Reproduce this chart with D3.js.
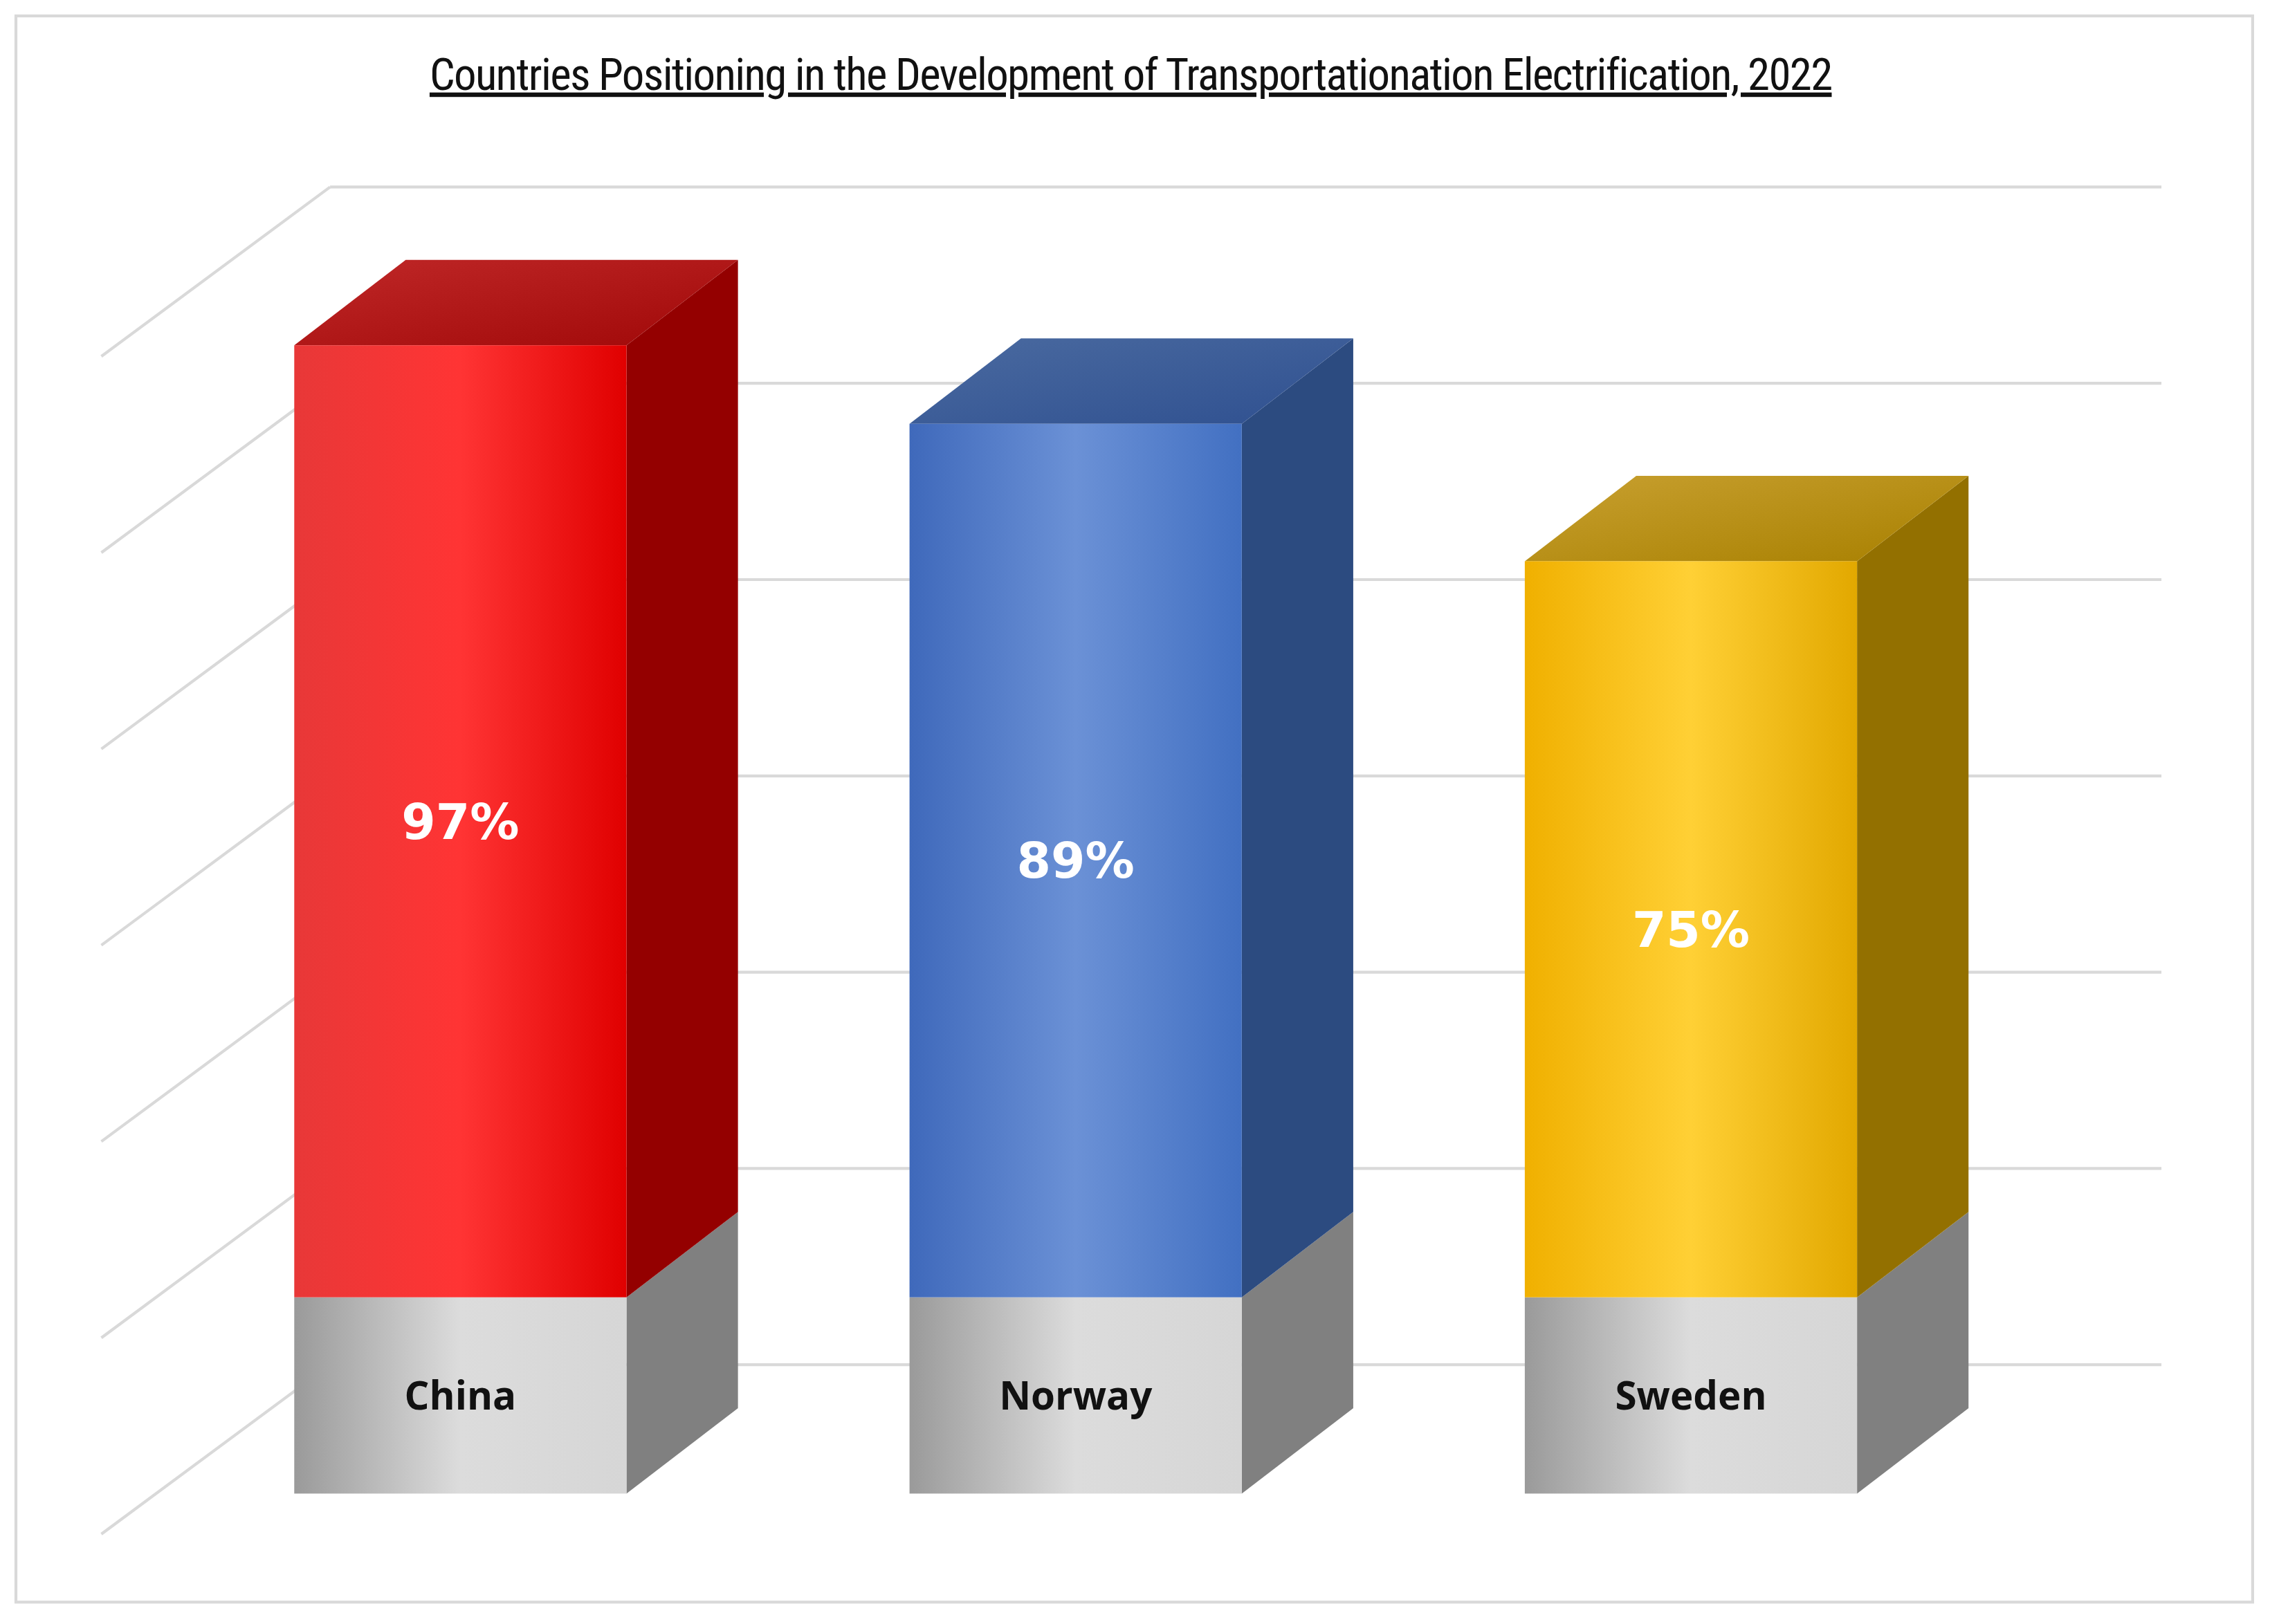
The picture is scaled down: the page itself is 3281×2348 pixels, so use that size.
<!DOCTYPE html>
<html><head><meta charset="utf-8">
<script src="https://cdn.jsdelivr.net/npm/d3@7"></script>
<style>body{margin:0;background:#fff}svg{display:block}</style>
</head><body><svg width="3281" height="2348"></svg>
<script>
const countries = ["China", "Norway", "Sweden"];
const values = [97, 89, 75];
const baseValue = 20; // grey label segment under each bar
const gridValues = [0, 20, 40, 60, 80, 100, 120];
const title = "Countries Positioning in the Development of Transportationation Electrification,  2022";

const k = 3281 / 1568;
const svg = d3.select("svg");
const g = svg.append("g").attr("transform", `scale(${k})`);

const palette = {
  China: { f: ["#e83838", "#ff3434", "#e00000"], side: "#940000", top: ["#c02828", "#a00808"] },
  Norway: { f: ["#3f69bb", "#6b91d6", "#4270c2"], side: "#2c4b80", top: ["#4a6aa0", "#2f5090"] },
  Sweden: { f: ["#f0b000", "#ffd035", "#e2a800"], side: "#937000", top: ["#c8a030", "#a88000"] },
  base: { f: ["#9a9a9a", "#dcdcdc", "#d6d6d6"], side: "#808080" }
};

const y = d3.scaleLinear().domain([0, 140]).range([1032, 82.6]);
const x = d3.scaleBand().domain(countries).range([165, 1321]).paddingInner(0.46).paddingOuter(0.09);
const dx = 77, dy = -59;

// frame
g.append("rect").attr("x", 11).attr("y", 11).attr("width", 1545).attr("height", 1096)
  .attr("fill", "#fff").attr("stroke", "#d9d9d9").attr("stroke-width", 2);

// back wall grid and left wall diagonals
const grid = g.append("g").attr("stroke", "#d9d9d9").attr("stroke-width", 2).attr("fill", "none");
gridValues.forEach(v => {
  const yb = y(v) - 89;
  grid.append("line").attr("x1", 228).attr("x2", 1493).attr("y1", yb).attr("y2", yb);
  grid.append("line").attr("x1", 228).attr("x2", 70).attr("y1", yb).attr("y2", yb + 117);
});

const defs = g.append("defs");
function grad(id, stops, horizontal = true) {
  const lg = defs.append("linearGradient").attr("id", id)
    .attr("x1", 0).attr("y1", 0).attr("x2", horizontal ? 1 : 1).attr("y2", horizontal ? 0 : 1);
  stops.forEach((c, i) => lg.append("stop").attr("offset", i / (stops.length - 1)).attr("stop-color", c));
}
grad("g-base", palette.base.f);
countries.forEach(c => {
  grad("f-" + c, palette[c].f);
  grad("t-" + c, palette[c].top, false);
});

function box(x0, w, yTop, yBot, front, side, top) {
  const grp = g.append("g");
  grp.append("path").attr("fill", side)
    .attr("d", `M${x0 + w},${yTop}L${x0 + w + dx},${yTop + dy}L${x0 + w + dx},${yBot + dy}L${x0 + w},${yBot}Z`);
  if (top) grp.append("path").attr("fill", top)
    .attr("d", `M${x0},${yTop}L${x0 + dx},${yTop + dy}L${x0 + w + dx},${yTop + dy}L${x0 + w},${yTop}Z`);
  grp.append("rect").attr("x", x0).attr("y", yTop).attr("width", w).attr("height", yBot - yTop).attr("fill", front);
}

countries.forEach((c, i) => {
  const x0 = x(c), w = x.bandwidth();
  box(x0, w, y(baseValue), y(0), "url(#g-base)", palette.base.side, null);
  box(x0, w, y(baseValue + values[i]), y(baseValue), `url(#f-${c})`, palette[c].side, `url(#t-${c})`);
  g.append("text").attr("x", x0 + w / 2).attr("y", (y(baseValue) + y(0)) / 2 + 10)
    .attr("text-anchor", "middle").attr("font-family", "'Open Sans', 'DejaVu Sans', sans-serif")
    .attr("font-weight", "bold").attr("font-size", 27).attr("fill", "#111").text(c);
  g.append("text").attr("x", x0 + w / 2).attr("y", (y(baseValue + values[i]) + y(baseValue)) / 2 + 12)
    .attr("text-anchor", "middle").attr("font-family", "Verdana, 'DejaVu Sans', sans-serif")
    .attr("font-weight", "bold").attr("font-size", 34).attr("fill", "#fff").text(values[i] + "%");
});

g.append("text").attr("x", 781).attr("y", 62).attr("text-anchor", "middle")
  .attr("font-family", "'Liberation Sans Narrow', 'Roboto Condensed', 'Liberation Sans', sans-serif")
  .attr("font-size", 31).attr("letter-spacing", -0.8).attr("text-decoration", "underline").attr("fill", "#111")
  .text(title);
</script></body></html>
